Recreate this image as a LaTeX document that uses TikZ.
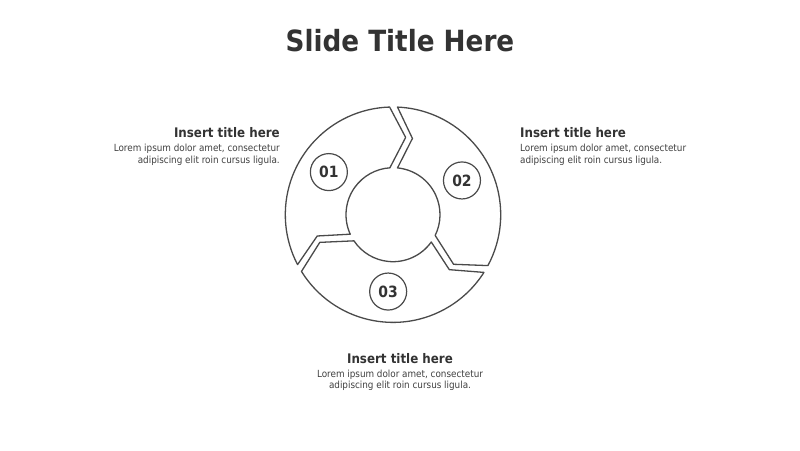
\documentclass[tikz,border=0pt]{standalone}
\usepackage{fontspec}
\setmainfont{DejaVu Sans Condensed}
\begin{document}
\begin{tikzpicture}[x=1pt,y=1pt,
  seg/.style={draw=ringcol, line width=1.3pt, line join=round},
  numcirc/.style={circle, draw=ringcol, line width=1.2pt, minimum size=37pt, inner sep=0pt,
    font=\fontsize{15.5}{15.5}\selectfont\bfseries, text=titlecol},
  ttl/.style={inner sep=0pt, font=\fontsize{13.2}{13.2}\selectfont\bfseries, text=titlecol},
  body/.style={inner sep=0pt, font=\fontsize{9.8}{12}\selectfont, text=bodycol}]
\definecolor{ringcol}{HTML}{4A4A4A}
\definecolor{titlecol}{HTML}{333333}
\definecolor{bodycol}{HTML}{404040}
\useasboundingbox (0,0) rectangle (800,450);
\fill[white] (0,0) rectangle (800,450);
% title
\node[inner sep=0pt, anchor=base, font=\fontsize{29.2}{29.2}\selectfont\bfseries, text=titlecol] (title) at (400,398.3) {Slide Title Here};
% ring
\begin{scope}[shift={(393,235.3)}]
\def\RingO{107.7}
\def\RingI{47}
\foreach \c in {150,30,270}{
  \draw[seg] ({\c-60+1.8}:\RingO) arc[start angle={\c-60+1.8}, end angle={\c+60-2.4}, radius=\RingO]
    -- ({\c+60-14.3}:78.7) -- ({\c+60-5.5}:\RingI)
    arc[start angle={\c+60-5.5}, end angle={\c-60+3.8}, radius=\RingI]
    -- ({\c-60-9.3}:78.3) -- cycle;
}
\node[numcirc] (n1) at ({150-3.6}:77) {01};
\node[numcirc] (n2) at ({30-3.6}:77) {02};
\node[numcirc] (n3) at ({270-3.6}:77) {03};
\end{scope}
% left block
\node[ttl, anchor=base east] (t1) at (280,312) {Insert title here};
\node[body, anchor=base east] (b1a) at (280,298) {Lorem ipsum dolor amet, consectetur};
\node[body, anchor=base east] (b1b) at (280,286.5) {adipiscing elit roin cursus ligula.};
% right block
\node[ttl, anchor=base west] (t2) at (520,312) {Insert title here};
\node[body, anchor=base west] (b2a) at (520,298) {Lorem ipsum dolor amet, consectetur};
\node[body, anchor=base west] (b2b) at (520,286.5) {adipiscing elit roin cursus ligula.};
% bottom block
\node[ttl, anchor=base] (t3) at (400,87) {Insert title here};
\node[body, anchor=base] (b3a) at (400,73) {Lorem ipsum dolor amet, consectetur};
\node[body, anchor=base] (b3b) at (400,61.5) {adipiscing elit roin cursus ligula.};
\end{tikzpicture}
\end{document}
